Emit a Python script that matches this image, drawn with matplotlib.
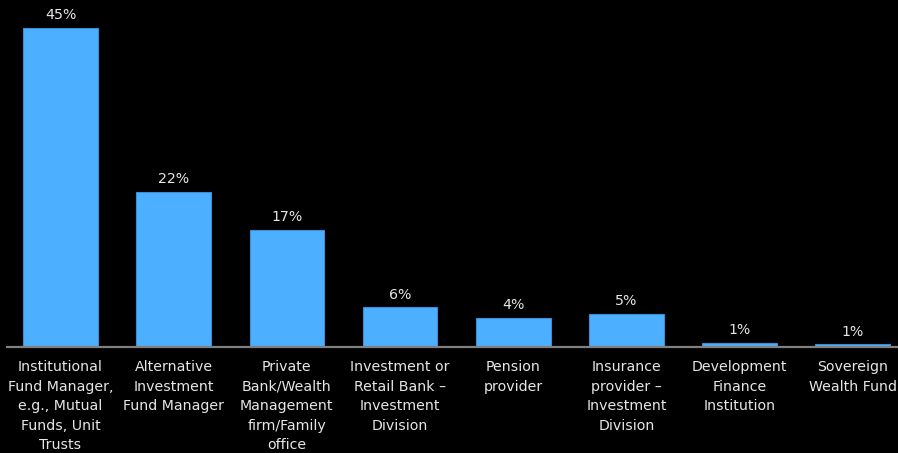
import matplotlib
matplotlib.use("Agg")
import matplotlib.pyplot as plt

categories = [
    "Institutional\nFund Manager,\ne.g., Mutual\nFunds, Unit\nTrusts",
    "Alternative\nInvestment\nFund Manager",
    "Private\nBank/Wealth\nManagement\nfirm/Family\noffice",
    "Investment or\nRetail Bank \u2013\nInvestment\nDivision",
    "Pension\nprovider",
    "Insurance\nprovider \u2013\nInvestment\nDivision",
    "Development\nFinance\nInstitution",
    "Sovereign\nWealth Fund",
]
values = [45.0, 21.9, 16.5, 5.6, 4.1, 4.7, 0.6, 0.4]
value_labels = ["45%", "22%", "17%", "6%", "4%", "5%", "1%", "1%"]

plt.rcParams['font.family'] = ['DejaVu Sans']

fig = plt.figure(figsize=(8.98, 4.53), dpi=100, facecolor="black")
ax = fig.add_axes([7/898, 1 - 347/453, 1 - 7/898, 347/453])
ax.set_facecolor("black")

x = list(range(len(categories)))
bars = ax.bar(x, values, width=0.66, color="#4DAFFF", edgecolor="#3A8ED6", linewidth=0.8, zorder=2)

for xi, v, lab in zip(x, values, value_labels):
    ax.annotate(lab, (xi, v), xytext=(0, 4), textcoords="offset points",
                ha="center", va="bottom", color="#E6E6E6", fontsize=10.2)

ax.set_xlim(-0.473, 7.40)
ax.set_ylim(0, 48.95)
ax.set_xticks(x)
ax.set_xticklabels(categories, color="#E6E6E6", fontsize=10.2, linespacing=1.5)
ax.tick_params(axis="x", length=0, pad=9.5)
ax.set_yticks([])
for s in ["top", "right", "left"]:
    ax.spines[s].set_visible(False)
ax.spines["bottom"].set_color("#808080")
ax.spines["bottom"].set_linewidth(1.6)
ax.spines["bottom"].set_zorder(3)

fig.savefig("out.png", dpi=100, facecolor="black")
